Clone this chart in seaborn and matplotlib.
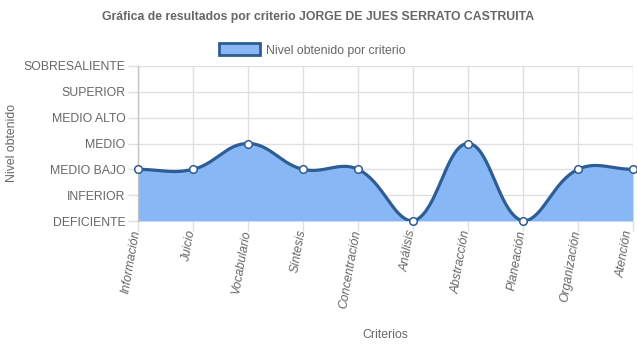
import numpy as np
import pandas as pd
import matplotlib
matplotlib.use("Agg")
import matplotlib.pyplot as plt
import seaborn as sns
from matplotlib.patches import Patch
import matplotlib.transforms as mtransforms

# ---- data ----
criterios = ["Información", "Juicio", "Vocabulario", "Síntesis", "Concentración",
             "Análisis", "Abstracción", "Planeación", "Organización", "Atención"]
niveles = ["DEFICIENTE", "INFERIOR", "MEDIO BAJO", "MEDIO", "MEDIO ALTO",
           "SUPERIOR", "SOBRESALIENTE"]
valores = [2, 2, 3, 2, 2, 0, 3, 0, 2, 2]

title = "Gráfica de resultados por criterio JORGE DE JUES SERRATO CASTRUITA"
legend_label = "Nivel obtenido por criterio"
ylabel = "Nivel obtenido"
xlabel = "Criterios"

FILL = "#87b8f5"
LINE = "#2d5d94"
TXT = "#666666"
GRID = "#e0e0e0"

sns.set_theme(style="white")
plt.rcParams["font.family"] = ["Liberation Sans", "DejaVu Sans"]

W, H = 637, 348
fig = plt.figure(figsize=(W / 100, H / 100), dpi=100)
L, R, T, B = 138, 633, 66, 221
ax = fig.add_axes([L / W, 1 - B / H, (R - L) / W, (B - T) / H])

x = np.arange(len(criterios), dtype=float)
y = np.array(valores, dtype=float)
ax.set_xlim(0, len(criterios) - 1)
ax.set_ylim(0, len(niveles) - 1)

# Chart.js-like bezier spline (tension 0.4) computed in pixel space
sx = (R - L) / (len(criterios) - 1)
sy = (B - T) / (len(niveles) - 1)
px, py = x * sx, y * sy
n = len(px)
t = 0.4
cp_prev = np.zeros((n, 2)); cp_next = np.zeros((n, 2))
for i in range(n):
    p0 = (px[max(i - 1, 0)], py[max(i - 1, 0)])
    p1 = (px[i], py[i])
    p2 = (px[min(i + 1, n - 1)], py[min(i + 1, n - 1)])
    d01 = np.hypot(p1[0] - p0[0], p1[1] - p0[1])
    d12 = np.hypot(p2[0] - p1[0], p2[1] - p1[1])
    tot = d01 + d12
    s01 = d01 / tot if tot else 0
    s12 = d12 / tot if tot else 0
    fa, fb = t * s01, t * s12
    cp_prev[i] = (p1[0] - fa * (p2[0] - p0[0]), p1[1] - fa * (p2[1] - p0[1]))
    cp_next[i] = (p1[0] + fb * (p2[0] - p0[0]), p1[1] + fb * (p2[1] - p0[1]))
ymax_px = (len(niveles) - 1) * sy
cp_prev[:, 1] = np.clip(cp_prev[:, 1], 0, ymax_px)
cp_next[:, 1] = np.clip(cp_next[:, 1], 0, ymax_px)

cx, cy = [], []
tt = np.linspace(0, 1, 40)
for i in range(n - 1):
    P0 = np.array([px[i], py[i]]); P1 = cp_next[i]; P2 = cp_prev[i + 1]; P3 = np.array([px[i + 1], py[i + 1]])
    pts = ((1 - tt)[:, None] ** 3 * P0 + 3 * ((1 - tt) ** 2 * tt)[:, None] * P1
           + 3 * ((1 - tt) * tt ** 2)[:, None] * P2 + (tt ** 3)[:, None] * P3)
    cx.extend(pts[:, 0] / sx); cy.extend(pts[:, 1] / sy)
curve = pd.DataFrame({"x": cx, "y": cy})

ax.fill_between(curve["x"], 0, curve["y"], color=FILL, lw=0, zorder=2)
sns.lineplot(data=curve, x="x", y="y", ax=ax, color=LINE, lw=2.3, sort=False,
             zorder=3, solid_capstyle="round")
pts = pd.DataFrame({"x": x, "y": y})
sns.scatterplot(data=pts, x="x", y="y", ax=ax, s=30, color="white",
                edgecolor=LINE, linewidth=1.1, zorder=4, clip_on=False)

# axes styling
ax.set_xticks(x)
ax.set_xticklabels([])
blend = mtransforms.blended_transform_factory(ax.transData, ax.transAxes)
for k, lab in enumerate(criterios):
    dx = -1 if k < len(criterios) - 1 else -4
    off = mtransforms.ScaledTranslation(dx / 100, -9 / 100, fig.dpi_scale_trans)
    ax.text(x[k], 0, lab, transform=blend + off, rotation=80, ha="right",
            va="center", rotation_mode="anchor", fontsize=8.8, color=TXT,
            style="italic", clip_on=False)
ax.set_yticks(np.arange(len(niveles)))
ax.set_yticklabels(niveles, fontsize=8.8, color=TXT)
ax.tick_params(axis="both", which="both", length=7, width=1, color=GRID,
               pad=2, left=True, bottom=True)
ax.grid(True, color=GRID, lw=1, zorder=0)
ax.set_axisbelow(True)
for s in ["top", "right", "bottom"]:
    ax.spines[s].set_visible(False)
ax.spines["left"].set_color("#c4c4c4")
ax.spines["left"].set_linewidth(1)

ax.set_xlabel(xlabel, fontsize=8.8, color=TXT)
ax.xaxis.set_label_coords(0.5, (B - 335) / (B - T))
ax.set_ylabel(ylabel, fontsize=8.8, color=TXT)
ax.yaxis.set_label_coords((12 - L) / (R - L), 0.5)
ax.xaxis.label.set_va("center")
ax.yaxis.label.set_va("center")

fig.text(0.5, 1 - 17 / H, title, ha="center", va="center", fontsize=8.8,
         fontweight="bold", color=TXT)
handle = Patch(facecolor=FILL, edgecolor=LINE, linewidth=2)
fig.legend([handle], [legend_label], loc="center", bbox_to_anchor=(0.49, 1 - 50 / H),
           frameon=False, fontsize=8.8, labelcolor=TXT, handlelength=3.4,
           handleheight=1.1, handletextpad=0.5)

fig.savefig("out.png", dpi=100)
